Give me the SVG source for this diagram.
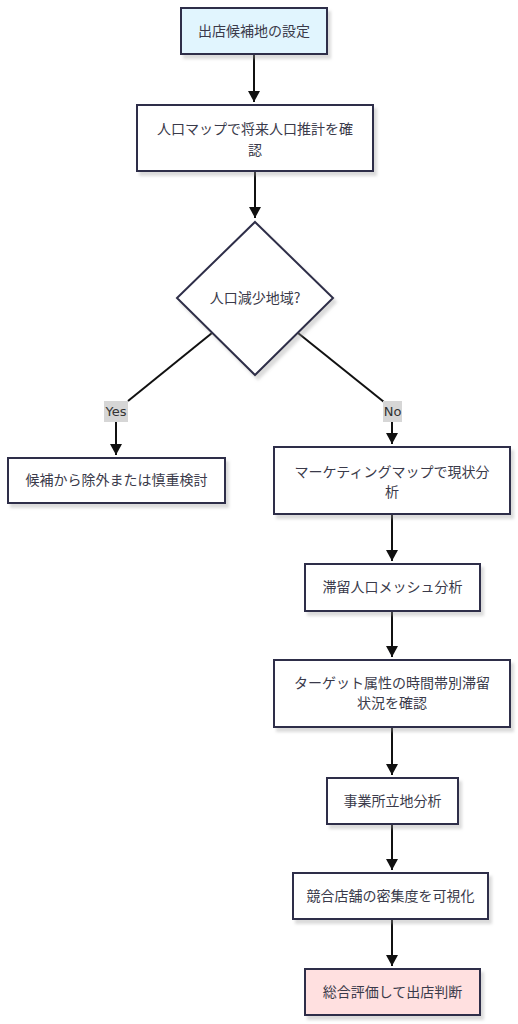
<svg xmlns="http://www.w3.org/2000/svg" width="518" height="1024" viewBox="0 0 518 1024">
<style>
.node rect, .node polygon { fill: #ffffff; stroke: #2e2e48; stroke-width: 2; filter: url(#shadow); }
.node text { font-family: "Noto Sans CJK JP", "Noto Sans", sans-serif; font-size: 14px; fill: #3a3a4a; text-anchor: middle; }
.edge { stroke: #111111; stroke-width: 2; fill: none; }
.lbl rect { fill: #d6d6d6; }
.lbl text { font-family: "DejaVu Sans", "Noto Sans", sans-serif; font-size: 13px; fill: #333333; text-anchor: middle; }
</style>
<defs>
<filter id="shadow" x="-10%" y="-10%" width="130%" height="140%">
<feDropShadow dx="3" dy="4" stdDeviation="1.5" flood-color="#999999" flood-opacity="0.35"/>
</filter>
<marker id="arrow" markerUnits="userSpaceOnUse" markerWidth="14" markerHeight="14" refX="11" refY="6" orient="auto">
<path d="M0,0 L11,6 L0,12 Z" fill="#111111"/>
</marker>
</defs>
<rect width="518" height="1024" fill="#ffffff"/>
<g id="connectors">
<line class="edge" x1="254" y1="54" x2="254" y2="102" marker-end="url(#arrow)"/>
<line class="edge" x1="255" y1="171" x2="255" y2="218" marker-end="url(#arrow)"/>
<line class="edge" x1="212" y1="333" x2="128" y2="401"/>
<line class="edge" x1="116" y1="421" x2="116" y2="455" marker-end="url(#arrow)"/>
<line class="edge" x1="298" y1="333" x2="384" y2="402"/>
<line class="edge" x1="392" y1="421" x2="392" y2="444" marker-end="url(#arrow)"/>
<line class="edge" x1="392" y1="514" x2="392" y2="561" marker-end="url(#arrow)"/>
<line class="edge" x1="392" y1="611" x2="392" y2="657" marker-end="url(#arrow)"/>
<line class="edge" x1="392" y1="727" x2="392" y2="775" marker-end="url(#arrow)"/>
<line class="edge" x1="392" y1="824" x2="392" y2="870" marker-end="url(#arrow)"/>
<line class="edge" x1="392" y1="919" x2="392" y2="966" marker-end="url(#arrow)"/>
<g class="lbl" id="label-yes"><rect x="104" y="401" width="24" height="21"/><text x="116" y="416">Yes</text></g>
<g class="lbl" id="label-no"><rect x="383" y="401" width="19" height="21"/><text x="392.5" y="416">No</text></g>
</g>
<g id="n1" class="node"><rect x="181" y="8" width="146" height="46" style="fill:#e1f5fe"/><text x="254" y="36">出店候補地の設定</text></g>
<g id="n2" class="node"><rect x="137" y="105" width="236" height="66"/><text x="255" y="134">人口マップで将来人口推計を確</text><text x="255" y="155">認</text></g>
<g id="n3" class="node"><polygon points="255,222 333,298 255,375 177,298"/><text x="255" y="303">人口減少地域?</text></g>
<g id="n4" class="node"><rect x="8" y="458" width="217" height="45"/><text x="116.5" y="485">候補から除外または慎重検討</text></g>
<g id="n5" class="node"><rect x="274" y="447" width="236" height="67"/><text x="392" y="477">マーケティングマップで現状分</text><text x="392" y="497">析</text></g>
<g id="n6" class="node"><rect x="305" y="564" width="175" height="47"/><text x="392.5" y="592">滞留人口メッシュ分析</text></g>
<g id="n7" class="node"><rect x="274" y="660" width="236" height="67"/><text x="392" y="688">ターゲット属性の時間帯別滞留</text><text x="392" y="708">状況を確認</text></g>
<g id="n8" class="node"><rect x="327" y="778" width="131" height="46"/><text x="392.5" y="806">事業所立地分析</text></g>
<g id="n9" class="node"><rect x="293" y="873" width="195" height="46"/><text x="390.5" y="901">競合店舗の密集度を可視化</text></g>
<g id="n10" class="node"><rect x="305" y="969" width="175" height="46" style="fill:#ffe0e0"/><text x="392.5" y="997">総合評価して出店判断</text></g>
</svg>
